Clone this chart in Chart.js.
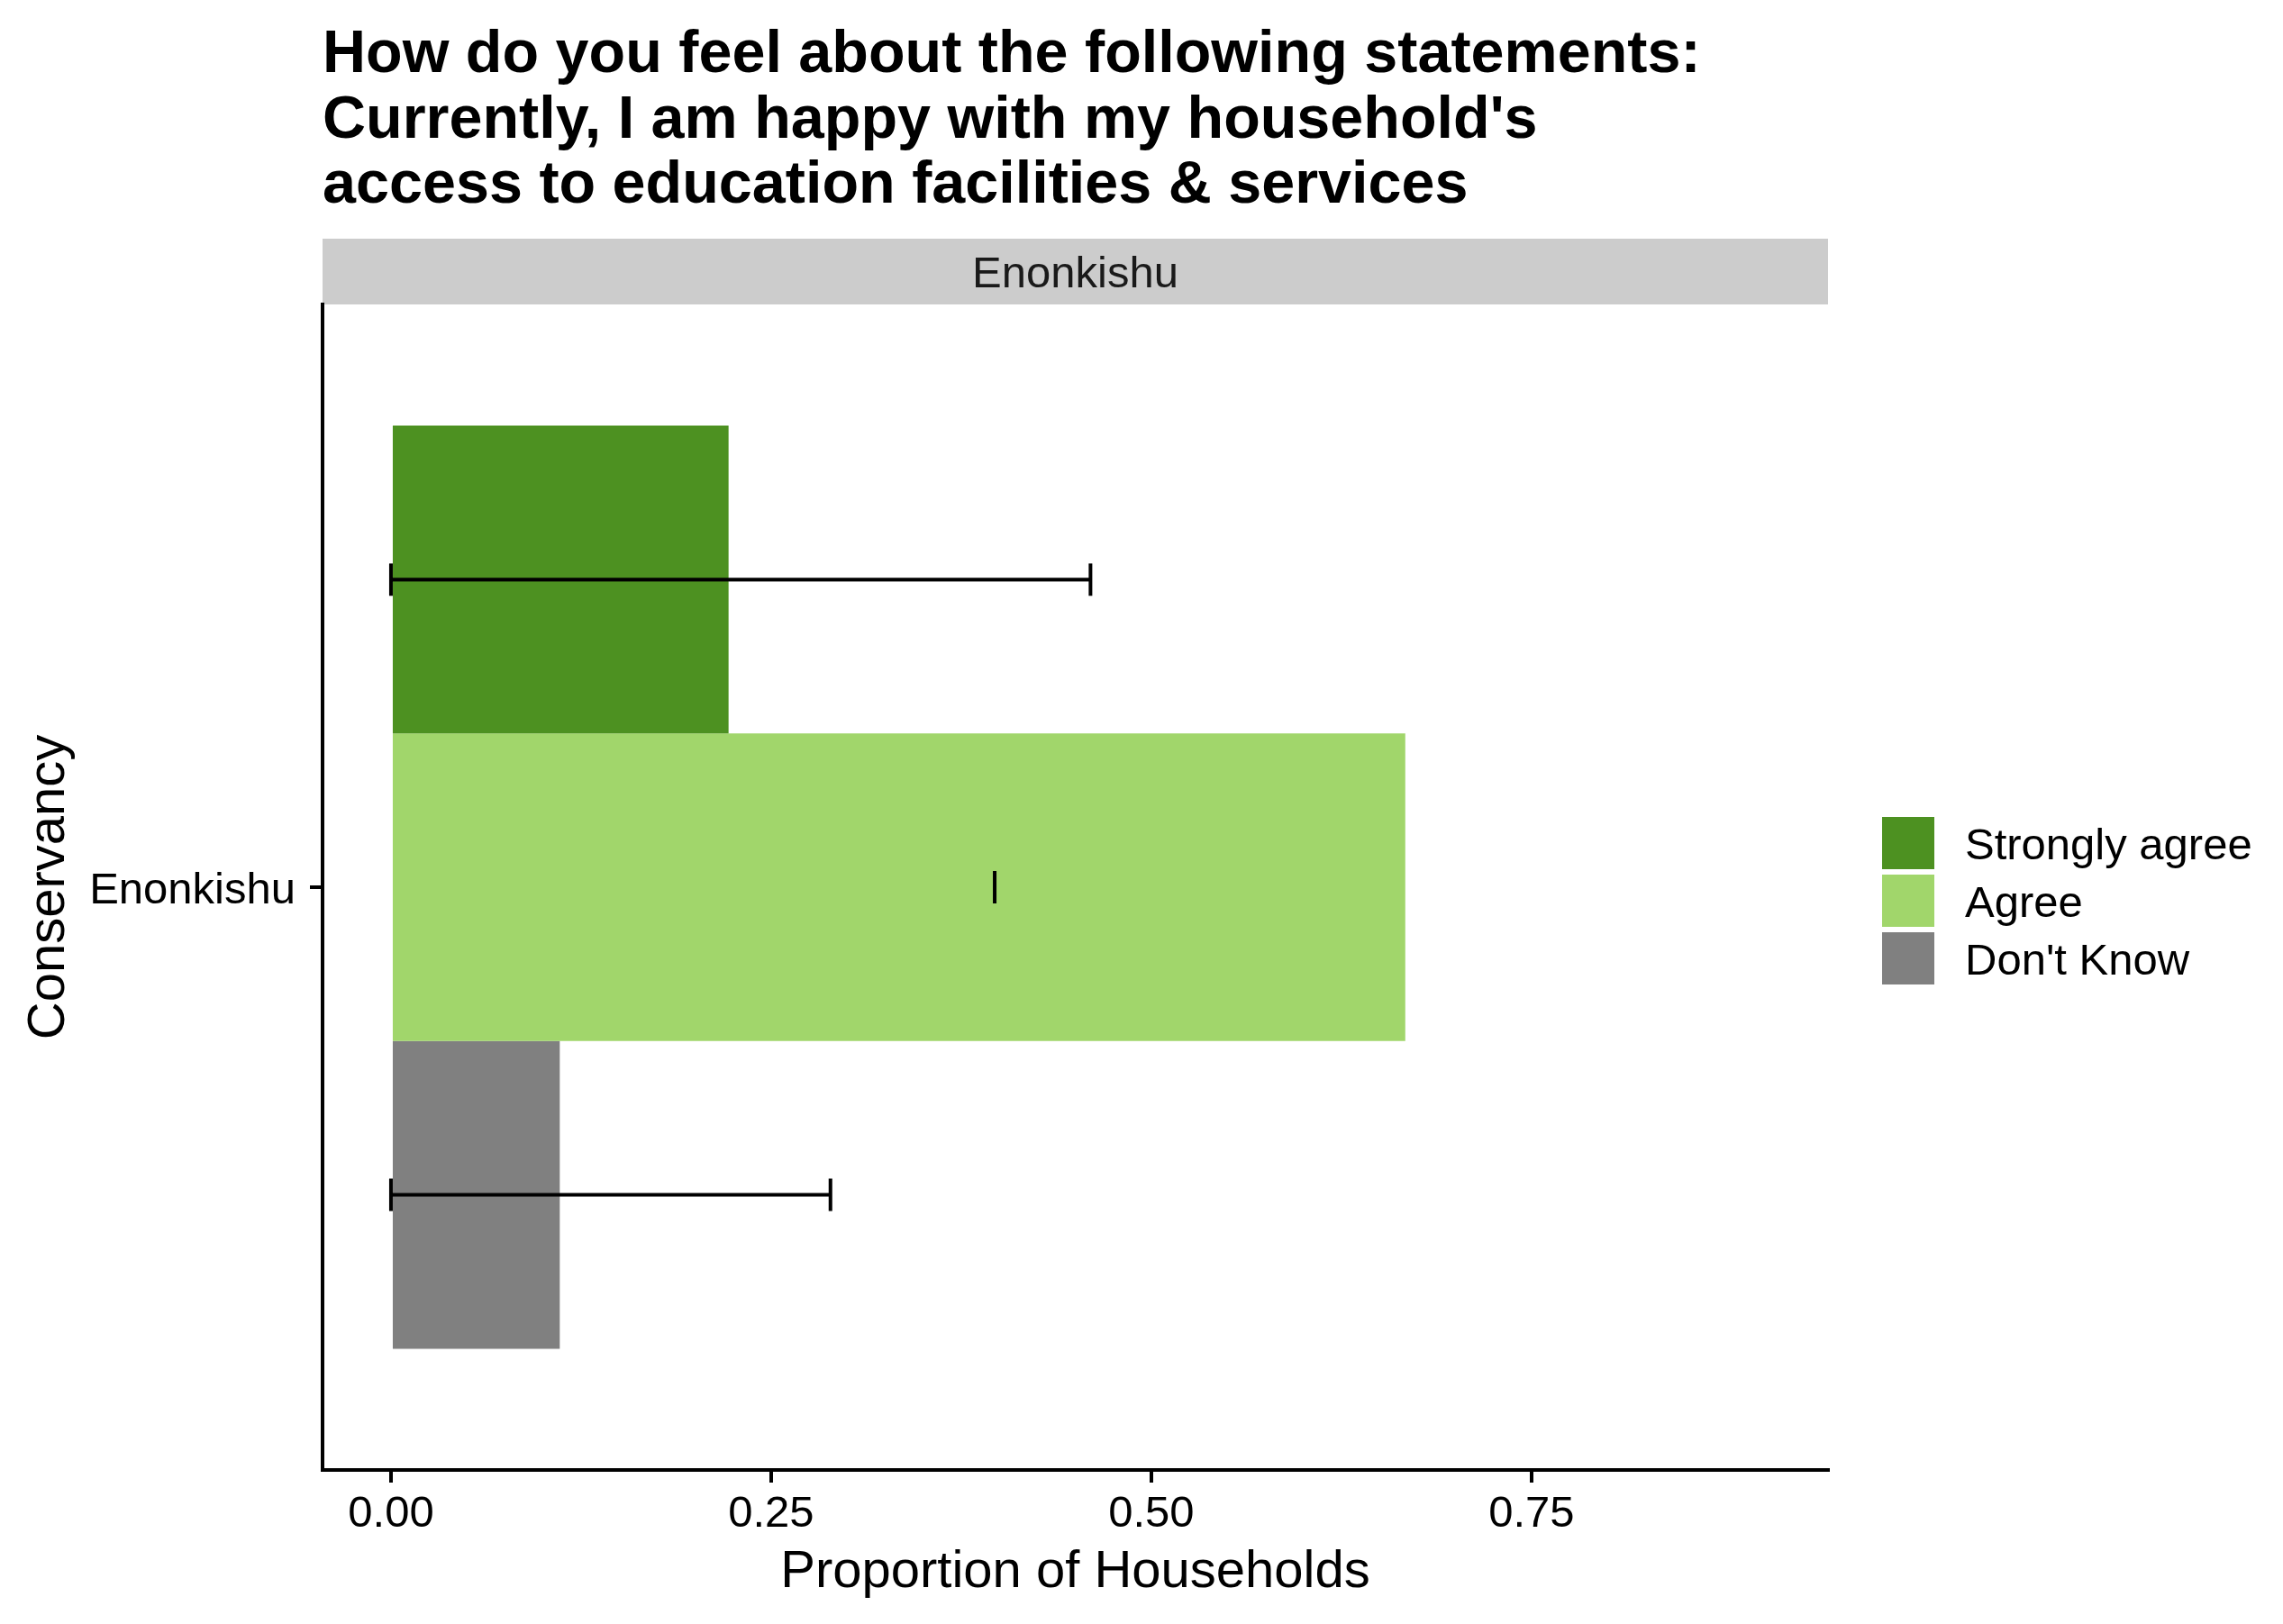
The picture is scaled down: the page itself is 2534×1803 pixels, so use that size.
<!DOCTYPE html>
<html>
<head>
<meta charset="utf-8">
<script src="https://cdn.jsdelivr.net/npm/chart.js@4.4.1/dist/chart.umd.min.js"></script>
<style>
html,body{margin:0;padding:0;background:#ffffff;}
#wrap{width:2534px;height:1803px;position:relative;}
canvas{display:block;}
</style>
</head>
<body>
<div id="wrap"><canvas id="c" width="2534" height="1803"></canvas></div>
<script>
// ---- data ----
const categories = ['Enonkishu'];
const seriesNames = ['Strongly agree', 'Agree', "Don't Know"];
const seriesColors = ['#4D9121', '#A1D66B', '#808080'];
const stronglyAgree = [0.222];
const agree = [0.667];
const dontKnow = [0.111];
const errLow = [0, 0.397, 0];
const errHigh = [0.460, 0.397, 0.289];
const xTickValues = [0, 0.25, 0.5, 0.75];
const xTickLabels = ['0.00', '0.25', '0.50', '0.75'];
const xMin = -0.045;
const xMax = 0.945;
const titleLines = [
  'How do you feel about the following statements:',
  "Currently, I am happy with my household's",
  'access to education facilities & services'
];
const stripLabel = 'Enonkishu';
const xTitle = 'Proportion of Households';
const yTitle = 'Conservancy';

const FONT = "'Liberation Sans', Arial, Helvetica, sans-serif";
Chart.defaults.font.family = FONT;
Chart.defaults.color = '#000000';

const seriesValues = [stronglyAgree, agree, dontKnow];

const decorPlugin = {
  id: 'decor',
  beforeDraw(chart) {
    const ctx = chart.ctx;
    const a = chart.chartArea;
    ctx.save();
    ctx.fillStyle = '#ffffff';
    ctx.fillRect(0, 0, chart.width, chart.height);
    // facet strip
    ctx.fillStyle = '#CCCCCC';
    ctx.fillRect(a.left, 265, a.right - a.left, a.top - 265);
    ctx.fillStyle = '#1A1A1A';
    ctx.font = '49px ' + FONT;
    ctx.textAlign = 'center';
    ctx.textBaseline = 'alphabetic';
    ctx.fillText(stripLabel, (a.left + a.right) / 2, 319);
    // title
    ctx.fillStyle = '#000000';
    ctx.font = 'bold 66.5px ' + FONT;
    ctx.textAlign = 'left';
    ctx.textBaseline = 'alphabetic';
    const baselines = [80, 152.5, 225];
    titleLines.forEach((t, i) => ctx.fillText(t, a.left, baselines[i]));
    ctx.restore();
  },
  afterDatasetsDraw(chart) {
    const ctx = chart.ctx;
    const xs = chart.scales.x;
    ctx.save();
    ctx.strokeStyle = '#000000';
    ctx.lineWidth = 4;
    ctx.lineCap = 'butt';
    const capHalf = 18;
    chart.data.datasets.forEach((ds, i) => {
      const meta = chart.getDatasetMeta(i);
      const bar = meta.data[0];
      if (!bar) return;
      const y = bar.y;
      const x1 = xs.getPixelForValue(errLow[i]);
      const x2 = xs.getPixelForValue(errHigh[i]);
      ctx.beginPath();
      ctx.moveTo(x1, y); ctx.lineTo(x2, y);
      ctx.moveTo(x1, y - capHalf); ctx.lineTo(x1, y + capHalf);
      ctx.moveTo(x2, y - capHalf); ctx.lineTo(x2, y + capHalf);
      ctx.stroke();
    });
    ctx.restore();
  },
  afterDraw(chart) {
    const ctx = chart.ctx;
    ctx.save();
    const keyX = 2089, keyTop = 907, keySize = 58, step = 64;
    chart.data.datasets.forEach((ds, i) => {
      const top = keyTop + i * step;
      ctx.fillStyle = ds.backgroundColor;
      ctx.fillRect(keyX, top, keySize, keySize);
      ctx.fillStyle = '#000000';
      ctx.font = '49px ' + FONT;
      ctx.textAlign = 'left';
      ctx.textBaseline = 'alphabetic';
      ctx.fillText(ds.label, 2181, top + keySize / 2 + 18);
    });
    ctx.restore();
  }
};

new Chart(document.getElementById('c'), {
  type: 'bar',
  data: {
    labels: categories,
    datasets: seriesNames.map((name, i) => ({
      label: name,
      data: seriesValues[i],
      backgroundColor: seriesColors[i],
      borderWidth: 0,
      barPercentage: 1.0,
      categoryPercentage: 0.792
    }))
  },
  options: {
    indexAxis: 'y',
    responsive: false,
    maintainAspectRatio: false,
    devicePixelRatio: 1,
    animation: false,
    layout: { padding: { top: 338, right: 505, bottom: 0, left: 0 } },
    plugins: {
      legend: { display: false },
      title: { display: false },
      tooltip: { enabled: false }
    },
    scales: {
      x: {
        type: 'linear',
        min: xMin,
        max: xMax,
        afterBuildTicks: (s) => { s.ticks = xTickValues.map(v => ({ value: v })); },
        afterFit: (s) => { s.height = 171; },
        grid: { drawOnChartArea: false, drawTicks: true, tickLength: 14, color: '#000000', lineWidth: 4 },
        border: { display: true, color: '#000000', width: 4 },
        ticks: {
          autoSkip: false, maxRotation: 0, padding: 6,
          font: { size: 49 }, color: '#000000',
          callback: (v, i) => xTickLabels[i]
        },
        title: { display: true, text: xTitle, font: { size: 58 }, color: '#000000', padding: { top: 0, bottom: 22 } }
      },
      y: {
        type: 'category',
        offset: true,
        afterFit: (s) => { s.width = 358; },
        grid: { drawOnChartArea: false, drawTicks: true, tickLength: 14, color: '#000000', lineWidth: 4, offset: false },
        border: { display: true, color: '#000000', width: 4 },
        ticks: { padding: 16, labelOffset: 4, font: { size: 49 }, color: '#000000' },
        title: { display: true, text: yTitle, font: { size: 58 }, color: '#000000', padding: { top: 20, bottom: 0 } }
      }
    }
  },
  plugins: [decorPlugin]
});
</script>
</body>
</html>
